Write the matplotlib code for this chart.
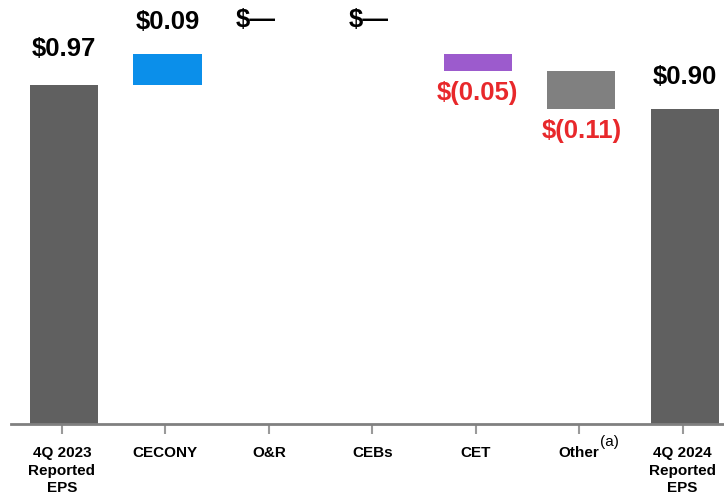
import matplotlib
matplotlib.use("Agg")
import matplotlib.pyplot as plt
import numpy as np

plt.rcParams['font.family'] = ['Liberation Sans', 'DejaVu Sans']

categories = ["4Q 2023\nReported\nEPS", "CECONY", "O&R", "CEBs", "CET", "Other", "4Q 2024\nReported\nEPS"]
changes = [0.97, 0.09, 0.00, 0.00, -0.05, -0.11, 0.90]
kinds = ["total", "delta", "delta", "delta", "delta", "delta", "total"]
labels = ["$0.97", "$0.09", "$\u2014", "$\u2014", "$(0.05)", "$(0.11)", "$0.90"]
colors = ["#606060", "#0b8fea", "#ffffff", "#ffffff", "#9c5bcd", "#808080", "#606060"]

fig = plt.figure(figsize=(7.24, 4.98), dpi=100)
ax = fig.add_axes([11/724, 74.5/498, 713/724, 423.5/498])

x = np.arange(len(categories))
xb = x + 0.02
bottoms, heights = [], []
running = 0.0
for k, c in zip(kinds, changes):
    if k == "total":
        bottoms.append(0.0)
        heights.append(c)
        running = c
    else:
        if c >= 0:
            bottoms.append(running)
        else:
            bottoms.append(running + c)
        heights.append(abs(c))
        running += c

ax.bar(xb, heights, bottom=bottoms, width=0.658, color=colors, linewidth=0, zorder=2)

px = 72/100  # points per pixel
running = 0.0
for i, (k, c, lab) in enumerate(zip(kinds, changes, labels)):
    if k == "total":
        top = c
        running = c
        off = 36 if i == 0 else 32
        ax.annotate(lab, (xb[i], top), xytext=(0, off*px), textcoords="offset points",
                    ha="center", va="center", fontsize=18.5, fontweight="bold", color="black")
    else:
        running += c
        if c > 0:
            ax.annotate(lab, (xb[i], running), xytext=(0, 32*px), textcoords="offset points",
                        ha="center", va="center", fontsize=18.5, fontweight="bold", color="black")
        elif c == 0:
            dx = -13 if i == 2 else -4
            ax.annotate(lab, (x[i], running), xytext=(dx*px, 34*px), textcoords="offset points",
                        ha="center", va="center", fontsize=18.5, fontweight="bold", color="black")
        else:
            ax.annotate(lab, (xb[i], running), xytext=(0, -22*px), textcoords="offset points",
                        ha="center", va="center", fontsize=18.5, fontweight="bold", color="#e8282b")

ax.set_xlim(-0.493, 6.40)
ax.set_ylim(0, 1.2135)
ax.set_xticks(x)
ax.set_xticklabels(categories, fontsize=11, fontweight="bold", linespacing=1.3, va="top")
ax.tick_params(axis="x", length=7.5, width=1.5, color="#9a9a9a", pad=9)
ax.set_yticks([])
for s in ["top", "right", "left"]:
    ax.spines[s].set_visible(False)
ax.spines["bottom"].set_color("#808080")
ax.spines["bottom"].set_linewidth(2)

ax.annotate("(a)", (x[5], 0), xytext=(21*px, -18*px), textcoords="offset points",
            ha="left", va="center", fontsize=11, color="black")

fig.savefig("out.png", dpi=100)
